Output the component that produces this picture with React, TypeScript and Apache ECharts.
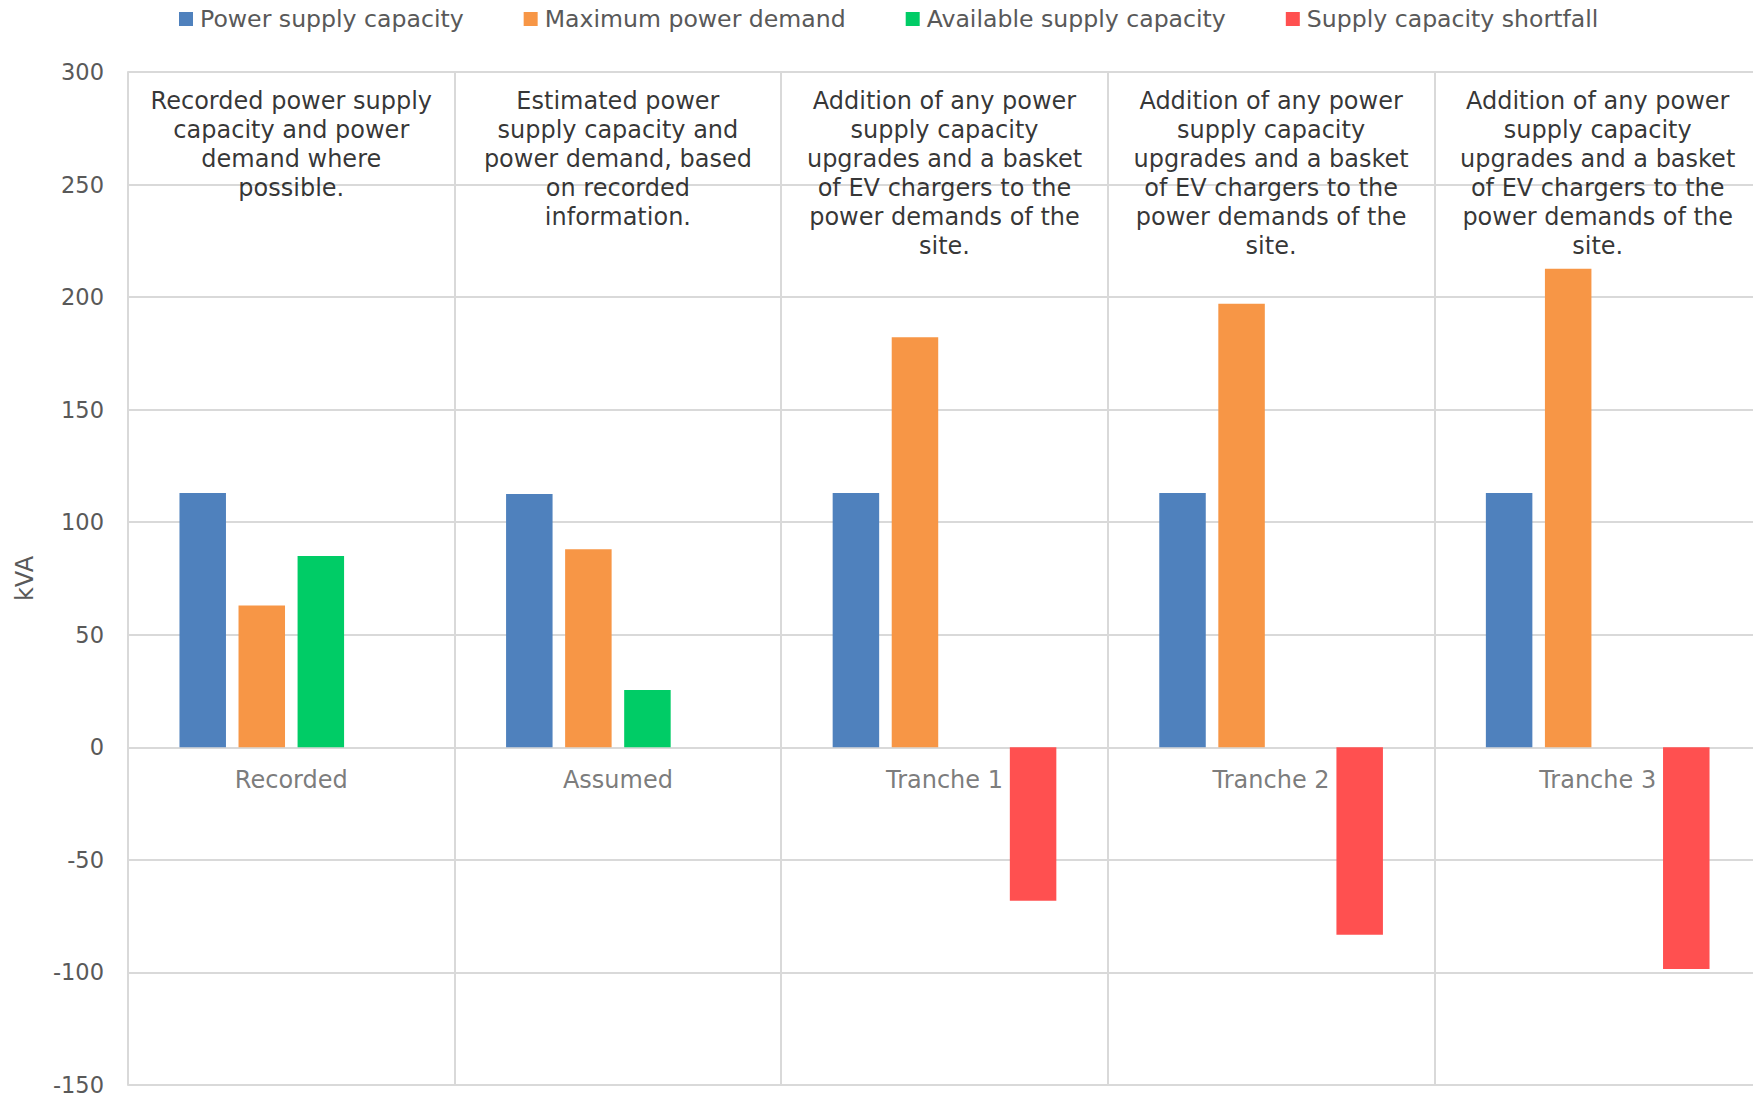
import React, { useEffect, useRef } from "react";
import * as echarts from "echarts";

const categories = ["Recorded", "Assumed", "Tranche 1", "Tranche 2", "Tranche 3"];
const seriesNames = [
  "Power supply capacity",
  "Maximum power demand",
  "Available supply capacity",
  "Supply capacity shortfall",
];
const powerSupplyCapacity = [113, 112.5, 113, 113, 113];
const maximumPowerDemand = [63, 88, 182.2, 197.1, 212.6];
const availableSupplyCapacity = [85, 25.5, null, null, null];
const supplyCapacityShortfall = [null, null, -68.2, -83.3, -98.5];
const annotations = [
  "Recorded power supply\ncapacity and power\ndemand where\npossible.",
  "Estimated power\nsupply capacity and\npower demand, based\non recorded\ninformation.",
  "Addition of any power\nsupply capacity\nupgrades and a basket\nof EV chargers to the\npower demands of the\nsite.",
  "Addition of any power\nsupply capacity\nupgrades and a basket\nof EV chargers to the\npower demands of the\nsite.",
  "Addition of any power\nsupply capacity\nupgrades and a basket\nof EV chargers to the\npower demands of the\nsite.",
];
const yTicks = { min: -150, max: 300, interval: 50 };
const colors = ["#4F81BD", "#F79646", "#00CC66", "#FF5050"];

const FONT = 'Verdana, "DejaVu Sans", sans-serif';
const FS = 24;
const GRID = "#d9d9d9";

export default function App() {
  const ref = useRef<HTMLDivElement>(null);
  useEffect(() => {
    if (!ref.current) return;
    const chart = echarts.init(ref.current, null, { renderer: "svg" });
    const values = [
      powerSupplyCapacity,
      maximumPowerDemand,
      availableSupplyCapacity,
      supplyCapacityShortfall,
    ];
    const barSeries = seriesNames.map((name, i) => ({
      name,
      type: "bar",
      data: values[i],
      barWidth: 46.5,
      barGap: "27%",
      itemStyle: { color: colors[i] },
      z: 3,
    }));
    chart.setOption({
      animation: false,
      textStyle: { fontFamily: FONT },
      legend: {
        data: seriesNames,
        left: 179,
        top: 7,
        padding: 0,
        itemWidth: 14,
        itemHeight: 14,
        itemGap: 60,
        icon: "rect",
        textStyle: { fontFamily: FONT, fontSize: 23.6, color: "#595959", padding: [0, 0, 0, 2] },
      },
      grid: {
        left: 128,
        right: -8,
        top: 72,
        bottom: 12,
        containLabel: false,
        outerBoundsMode: "none",
      },
      xAxis: {
        type: "category",
        data: categories,
        boundaryGap: true,
        axisLine: { show: false },
        axisTick: { show: false },
        axisLabel: { show: false },
        splitLine: { show: true, lineStyle: { color: GRID, width: 2 } },
      },
      yAxis: {
        type: "value",
        min: yTicks.min,
        max: yTicks.max,
        interval: yTicks.interval,
        name: "kVA",
        nameLocation: "middle",
        nameGap: 91,
        nameTextStyle: { fontFamily: FONT, fontSize: FS, color: "#595959" },
        axisLine: { show: true, lineStyle: { color: GRID, width: 2 } },
        axisTick: { show: false },
        axisLabel: { fontFamily: FONT, fontSize: 22.5, lineHeight: 20, color: "#595959", margin: 24 },
        splitLine: { show: true, lineStyle: { color: GRID, width: 2 } },
      },
      series: [
        ...barSeries,
        {
          type: "scatter",
          name: "annotations",
          symbolSize: 1,
          clip: false,
          silent: true,
          itemStyle: { color: "rgba(0,0,0,0)" },
          data: categories.map((c) => [c, yTicks.max]),
          label: {
            show: true,
            position: "bottom",
            distance: 14,
            formatter: (p: any) => annotations[p.dataIndex],
            fontFamily: FONT,
            fontSize: FS,
            lineHeight: 29,
            color: "#000000",
            align: "center",
          },
        },
        {
          type: "scatter",
          name: "categoryLabels",
          symbolSize: 1,
          clip: false,
          silent: true,
          z: 1,
          itemStyle: { color: "rgba(0,0,0,0)" },
          data: categories.map((c) => [c, 0]),
          label: {
            show: true,
            position: "bottom",
            distance: 20,
            formatter: (p: any) => categories[p.dataIndex],
            fontFamily: FONT,
            fontSize: FS,
            color: "#595959",
            align: "center",
          },
        },
      ],
    });
    return () => chart.dispose();
  }, []);
  return (
    <div
      ref={ref}
      style={{ position: "absolute", left: 0, top: 0, width: 1753, height: 1097, background: "#ffffff" }}
    />
  );
}
